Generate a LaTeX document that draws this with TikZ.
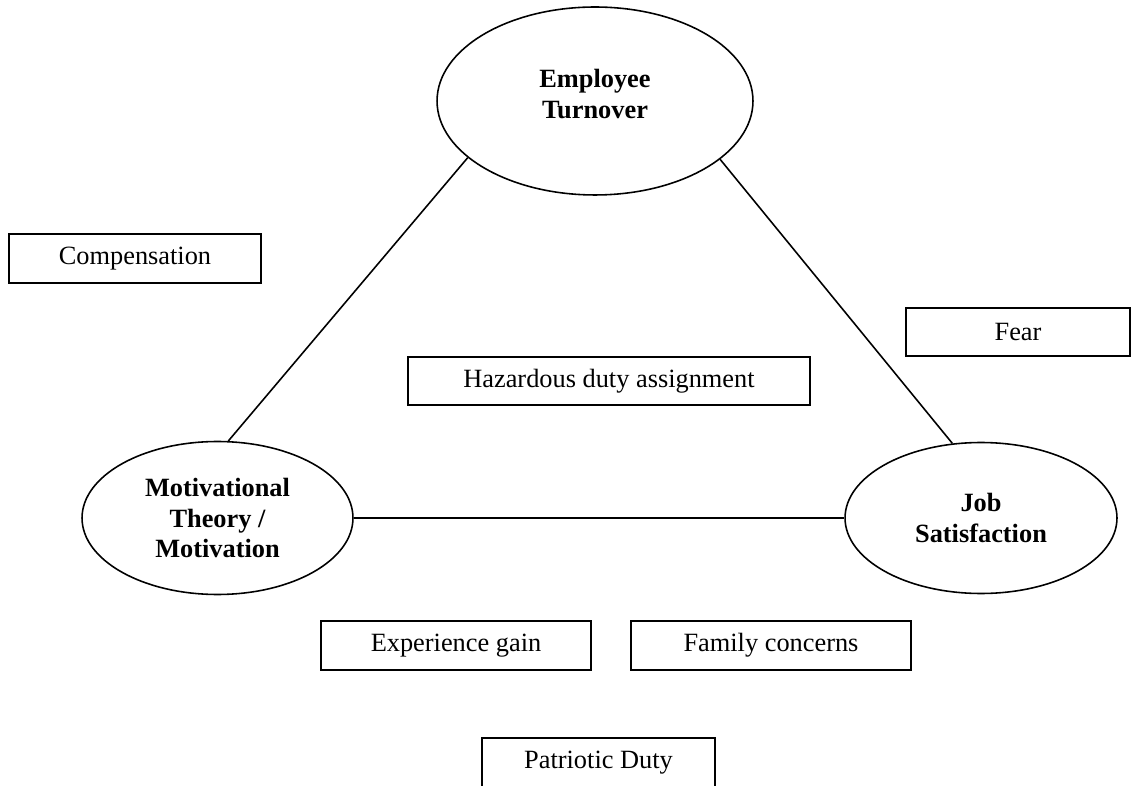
\documentclass[tikz,border=0pt]{standalone}
\usepackage{fontspec}
\setmainfont{Liberation Serif}
\usetikzlibrary{shapes.geometric}

\tikzset{
  factor/.style={ellipse, draw, line width=0.9pt, inner sep=0pt, align=center,
    font=\fontsize{15}{17.6}\selectfont\bfseries},
  issue/.style={rectangle, draw, line width=0.9pt, inner sep=0pt,
    font=\fontsize{15}{17.6}\selectfont},
  link/.style={line width=0.9pt}
}

\begin{document}
\begin{tikzpicture}[x=0.02cm, y=-0.02cm]
  \useasboundingbox (0,0) rectangle (1131,786);

  % the three factors
  \node[factor, minimum width=6.32cm, minimum height=3.76cm, text depth=0.28cm]
    (turnover) at (595,101) {Employee\\Turnover};
  \node[factor, minimum width=5.42cm, minimum height=3.06cm]
    (motiv) at (217.5,518) {Motivational\\Theory /\\Motivation};
  \node[factor, minimum width=5.44cm, minimum height=3.02cm]
    (jobsat) at (981,518) {Job\\Satisfaction};

  \draw[link] (turnover.204.5) -- (motiv.82.8);
  \draw[link] (turnover.335.6) -- (jobsat.111);
  \draw[link] (motiv.east) -- (jobsat.west);

  % the issues round them
  \node[issue, minimum width=5.04cm, minimum height=0.98cm] (comp) at (135,258.5) {Compensation};
  \node[issue, minimum width=4.48cm, minimum height=0.96cm] (fear) at (1018,332) {Fear};
  \node[issue, minimum width=8.04cm, minimum height=0.96cm] (hazard) at (609,381) {Hazardous duty assignment};
  \node[issue, minimum width=5.40cm, minimum height=0.98cm] (expgain) at (456,645.5) {Experience gain};
  \node[issue, minimum width=5.60cm, minimum height=0.98cm] (family) at (771,645.5) {Family concerns};
  \node[issue, minimum width=4.66cm, minimum height=0.98cm] (patriot) at (598.5,762.5) {Patriotic Duty};
\end{tikzpicture}
\end{document}
